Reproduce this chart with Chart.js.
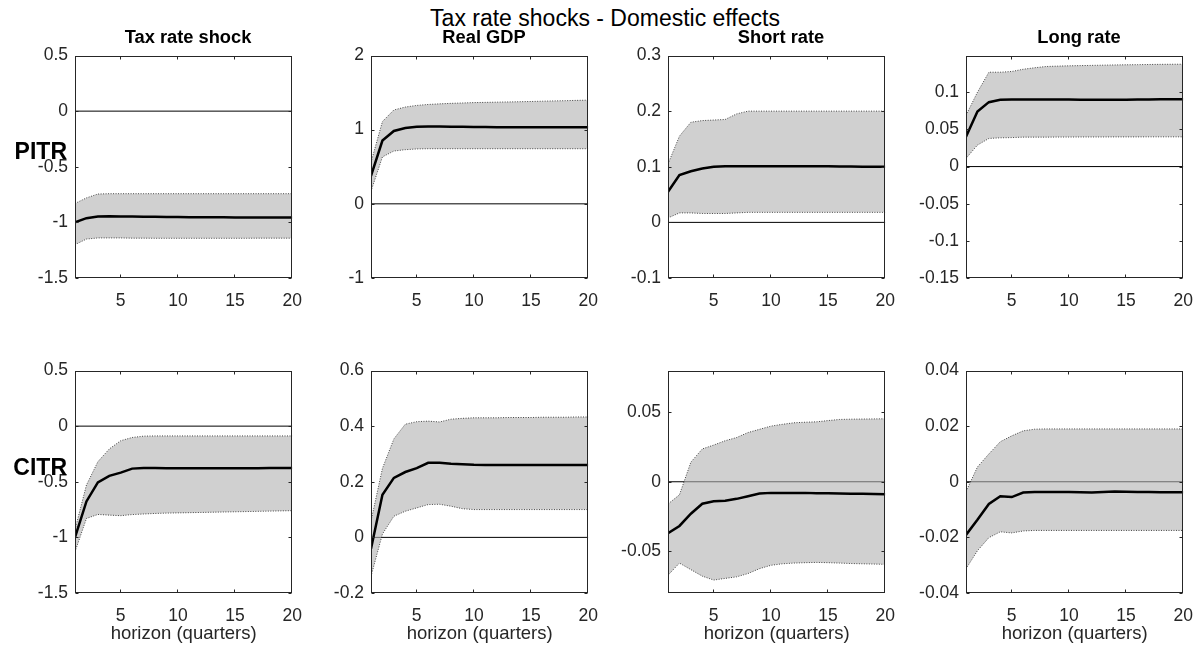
<!DOCTYPE html>
<html><head><meta charset="utf-8">
<script src="https://cdn.jsdelivr.net/npm/chart.js@4/dist/chart.umd.min.js"></script>
<style>
html,body{margin:0;padding:0;background:#fff;width:1202px;height:646px;overflow:hidden;position:relative;font-family:"Liberation Sans",Arial,sans-serif;}
canvas{position:absolute;}
.t{position:absolute;white-space:nowrap;color:#000;line-height:1;}
</style></head><body>
<script>
// ---------- data ----------
const horizon = [1,2,3,4,5,6,7,8,9,10,11,12,13,14,15,16,17,18,19,20];
const xTicks = [5,10,15,20];
const mainTitle = 'Tax rate shocks - Domestic effects';
const panelTitles = ['Tax rate shock','Real GDP','Short rate','Long rate'];
const rowLabels = ['PITR','CITR'];
const xAxisLabel = 'horizon (quarters)';

// PITR row
const pitrTaxMed = [-1.0,-0.962,-0.948,-0.946,-0.947,-0.948,-0.949,-0.950,-0.951,-0.952,-0.953,-0.954,-0.955,-0.955,-0.956,-0.956,-0.957,-0.957,-0.957,-0.957];
const pitrTaxUp  = [-0.83,-0.78,-0.745,-0.742,-0.742,-0.742,-0.742,-0.742,-0.742,-0.742,-0.742,-0.742,-0.742,-0.742,-0.742,-0.742,-0.742,-0.742,-0.742,-0.742];
const pitrTaxLo  = [-1.20,-1.15,-1.14,-1.14,-1.14,-1.142,-1.142,-1.143,-1.143,-1.143,-1.143,-1.143,-1.143,-1.143,-1.143,-1.143,-1.142,-1.142,-1.142,-1.142];

const pitrGdpMed = [0.376,0.854,0.982,1.022,1.04,1.044,1.042,1.04,1.038,1.036,1.035,1.034,1.034,1.033,1.033,1.033,1.033,1.033,1.033,1.033];
const pitrGdpUp  = [0.56,1.11,1.266,1.305,1.327,1.34,1.348,1.355,1.36,1.365,1.368,1.371,1.374,1.377,1.38,1.384,1.388,1.391,1.395,1.398];
const pitrGdpLo  = [0.17,0.633,0.712,0.73,0.74,0.743,0.743,0.743,0.743,0.743,0.743,0.743,0.743,0.743,0.743,0.743,0.743,0.743,0.743,0.743];

const pitrSrMed = [0.055,0.085,0.092,0.097,0.1,0.101,0.101,0.101,0.101,0.101,0.101,0.101,0.101,0.101,0.101,0.1005,0.1005,0.1,0.1,0.1];
const pitrSrUp  = [0.105,0.155,0.18,0.183,0.184,0.185,0.195,0.2,0.2,0.2,0.2,0.2,0.2,0.2,0.2,0.2,0.2,0.2,0.2,0.2];
const pitrSrLo  = [0.008,0.017,0.017,0.016,0.016,0.016,0.017,0.018,0.018,0.018,0.018,0.018,0.018,0.018,0.018,0.018,0.018,0.018,0.018,0.018];

const pitrLrMed = [0.04,0.0742,0.0867,0.0898,0.0902,0.0902,0.0902,0.0902,0.0902,0.0902,0.0901,0.09,0.09,0.09,0.09,0.0902,0.0903,0.0905,0.0906,0.0907];
const pitrLrUp  = [0.069,0.1,0.127,0.127,0.128,0.131,0.133,0.1347,0.1352,0.1356,0.1359,0.1362,0.1365,0.1368,0.137,0.1372,0.1374,0.1376,0.1377,0.1378];
const pitrLrLo  = [0.011,0.0289,0.0378,0.0387,0.039,0.0396,0.0396,0.0396,0.0397,0.0397,0.0398,0.0398,0.0398,0.0399,0.0399,0.0399,0.04,0.04,0.04,0.04];

// CITR row
const citrTaxMed = [-1.0,-0.677,-0.506,-0.447,-0.418,-0.382,-0.377,-0.377,-0.378,-0.378,-0.378,-0.378,-0.378,-0.378,-0.378,-0.378,-0.378,-0.377,-0.377,-0.377];
const citrTaxUp  = [-0.93,-0.53,-0.32,-0.205,-0.131,-0.102,-0.09,-0.088,-0.088,-0.088,-0.088,-0.088,-0.088,-0.088,-0.088,-0.088,-0.088,-0.088,-0.088,-0.088];
const citrTaxLo  = [-1.13,-0.83,-0.794,-0.80,-0.805,-0.795,-0.79,-0.785,-0.782,-0.78,-0.778,-0.776,-0.774,-0.772,-0.77,-0.768,-0.766,-0.764,-0.762,-0.76];

const citrGdpMed = [-0.041,0.153,0.214,0.235,0.249,0.268,0.268,0.265,0.263,0.261,0.26,0.26,0.26,0.26,0.26,0.26,0.26,0.26,0.26,0.26];
const citrGdpUp  = [0.059,0.248,0.354,0.407,0.416,0.418,0.415,0.425,0.428,0.43,0.43,0.43,0.431,0.431,0.431,0.432,0.432,0.432,0.433,0.433];
const citrGdpLo  = [-0.14,0.012,0.076,0.094,0.106,0.118,0.119,0.112,0.103,0.1,0.1,0.1,0.1,0.1,0.1,0.1,0.1,0.1,0.1,0.1];

const citrSrMed = [-0.037,-0.0318,-0.023,-0.0158,-0.0141,-0.0137,-0.0123,-0.0104,-0.0085,-0.008,-0.008,-0.008,-0.008,-0.0082,-0.0083,-0.0085,-0.0086,-0.0087,-0.0088,-0.009];
const citrSrUp  = [-0.016,-0.0094,0.0141,0.0236,0.0264,0.0295,0.0318,0.0354,0.0377,0.04,0.0413,0.0424,0.0428,0.0431,0.044,0.0448,0.045,0.0451,0.0452,0.0453];
const citrSrLo  = [-0.0672,-0.0585,-0.0632,-0.0679,-0.0707,-0.0695,-0.0684,-0.066,-0.0625,-0.0601,-0.059,-0.0585,-0.0582,-0.058,-0.0582,-0.0585,-0.0588,-0.059,-0.0592,-0.0594];

const citrLrMed = [-0.0191,-0.0137,-0.008,-0.0052,-0.0055,-0.0039,-0.0037,-0.0037,-0.0037,-0.0037,-0.0038,-0.0039,-0.0037,-0.0035,-0.0036,-0.0037,-0.0037,-0.0038,-0.0038,-0.0038];
const citrLrUp  = [-0.0035,0.0053,0.01,0.0144,0.0165,0.0183,0.0189,0.019,0.019,0.019,0.019,0.019,0.019,0.019,0.019,0.019,0.019,0.019,0.019,0.019];
const citrLrLo  = [-0.0313,-0.0248,-0.0201,-0.018,-0.0184,-0.0177,-0.0175,-0.0175,-0.0175,-0.0175,-0.0175,-0.0175,-0.0175,-0.0175,-0.0175,-0.0175,-0.0175,-0.0175,-0.0175,-0.0175];

// y axis ranges and ticks
const yTicksTax = [-1.5,-1,-0.5,0,0.5];
const yTicksGdp1 = [-1,0,1,2];
const yTicksSr1 = [-0.1,0,0.1,0.2,0.3];
const yTicksLr1 = [-0.15,-0.1,-0.05,0,0.05,0.1];
const yTicksGdp2 = [-0.2,0,0.2,0.4,0.6];
const yTicksSr2 = [-0.05,0,0.05];
const yTicksLr2 = [-0.04,-0.02,0,0.02,0.04];
const yRangeTax = [-1.5,0.5];
const yRangeGdp1 = [-1,2];
const yRangeSr1 = [-0.1,0.3];
const yRangeLr1 = [-0.15,0.1495];
const yRangeGdp2 = [-0.2,0.6];
const yRangeSr2 = [-0.08,0.08];
const yRangeLr2 = [-0.04,0.04];

// ---------- layout ----------
const FONT = '"Liberation Sans", Arial, sans-serif';
const lefts = [75,371,668,966];
const tops = [52,367];
const PW = 226, PH = 226;
const PAD_L = 75, PAD_R = 14, PAD_T = 14, PAD_B = 56;

function addText(txt, x, baseline, size, bold, align){
  const d = document.createElement('div');
  d.className='t'; d.textContent = txt;
  d.style.fontSize = size+'px';
  d.style.fontWeight = bold ? 'bold' : 'normal';
  d.style.top = (baseline - 0.8465*size)+'px';
  d.style.left = x+'px';
  if (align==='center') d.style.transform='translateX(-50%)';
  if (align==='right') d.style.transform='translateX(-100%)';
  document.body.appendChild(d);
}

const boxPlugin = {
  id:'box',
  afterDatasetsDraw(chart){
    const {ctx, chartArea:a, scales:{x,y}} = chart;
    ctx.save();
    ctx.strokeStyle='#262626'; ctx.lineWidth=1; ctx.setLineDash([]);
    const L=Math.round(a.left)+0.5, R=Math.round(a.right)-0.5, T=Math.round(a.top)+0.5, B=Math.round(a.bottom)-0.5;
    ctx.strokeRect(L,T,R-L,B-T);
    ctx.beginPath();
    x.ticks.forEach(t=>{const p=Math.round(x.getPixelForValue(t.value))-0.5; ctx.moveTo(p,B); ctx.lineTo(p,B-3); ctx.moveTo(p,T); ctx.lineTo(p,T+3);});
    y.ticks.forEach(t=>{const p=Math.round(y.getPixelForValue(t.value))+0.5; ctx.moveTo(L,p); ctx.lineTo(L+3,p); ctx.moveTo(R,p); ctx.lineTo(R-3,p);});
    ctx.stroke(); ctx.restore();
  }
};

function makePanel(col,row,med,up,lo,yRange,yTicks){
  const cv = document.createElement('canvas');
  cv.width = PAD_L+PW+PAD_R; cv.height = PAD_T+PH+PAD_B;
  cv.style.left = (lefts[col]-PAD_L)+'px'; cv.style.top=(tops[row]-PAD_T)+'px';
  document.body.appendChild(cv);
  const pts = arr => horizon.map((h,i)=>({x:h,y:arr[i]}));
  const n = horizon.length;
  new Chart(cv,{
    type:'line',
    data:{datasets:[
      {data:pts(med), borderColor:'#000', borderWidth:2.5, pointRadius:0, order:0, fill:false},
      {data:pts(up), borderColor:'rgba(0,0,0,0.7)', borderWidth:1, borderDash:[1,1.5], pointRadius:0, order:2, fill:2, backgroundColor:'rgba(176,176,176,0.6)'},
      {data:pts(lo), borderColor:'rgba(0,0,0,0.7)', borderWidth:1, borderDash:[1,1.5], pointRadius:0, order:1, fill:false},
      {data:[{x:horizon[0],y:0},{x:horizon[n-1],y:0}], borderColor:'#000', borderWidth:1, pointRadius:0, order:3, fill:false}
    ]},
    options:{
      responsive:false, animation:false, devicePixelRatio:1,
      layout:{padding:{left:0,top:PAD_T,right:PAD_R,bottom:0}},
      elements:{line:{tension:0}},
      plugins:{legend:{display:false}, tooltip:{enabled:false}, title:{display:false}},
      scales:{
        x:{type:'linear', min:horizon[0], max:horizon[n-1],
          grid:{display:false, drawTicks:false}, border:{display:false},
          afterBuildTicks:s=>{s.ticks = xTicks.map(v=>({value:v}));},
          afterFit:s=>{s.height = PAD_B;},
          ticks:{padding:13, color:'#262626', font:{family:FONT,size:17.5}, maxRotation:0, autoSkip:false},
          title:{display:row===1, text:xAxisLabel, color:'#262626', font:{family:FONT,size:18.5}, padding:{top:0,bottom:4}}
        },
        y:{type:'linear', min:yRange[0], max:yRange[1],
          grid:{display:false, drawTicks:false}, border:{display:false},
          afterBuildTicks:s=>{s.ticks = yTicks.map(v=>({value:v}));},
          afterFit:s=>{s.width = PAD_L;},
          ticks:{padding:7, color:'#262626', font:{family:FONT,size:17.5}, autoSkip:false, callback:v=>String(Math.round(v*1e6)/1e6)}
        }
      }
    },
    plugins:[boxPlugin]
  });
}

makePanel(0,0,pitrTaxMed,pitrTaxUp,pitrTaxLo,yRangeTax,yTicksTax);
makePanel(1,0,pitrGdpMed,pitrGdpUp,pitrGdpLo,yRangeGdp1,yTicksGdp1);
makePanel(2,0,pitrSrMed,pitrSrUp,pitrSrLo,yRangeSr1,yTicksSr1);
makePanel(3,0,pitrLrMed,pitrLrUp,pitrLrLo,yRangeLr1,yTicksLr1);
makePanel(0,1,citrTaxMed,citrTaxUp,citrTaxLo,yRangeTax,yTicksTax);
makePanel(1,1,citrGdpMed,citrGdpUp,citrGdpLo,yRangeGdp2,yTicksGdp2);
makePanel(2,1,citrSrMed,citrSrUp,citrSrLo,yRangeSr2,yTicksSr2);
makePanel(3,1,citrLrMed,citrLrUp,citrLrLo,yRangeLr2,yTicksLr2);

addText(mainTitle, 605, 26, 23, false, 'center');
panelTitles.forEach((t,i)=>addText(t, lefts[i]+PW/2, 43.5, 18.3, true, 'center'));
addText(rowLabels[0], 67, 159.5, 23, true, 'right');
addText(rowLabels[1], 67, 475.7, 23, true, 'right');
</script>
</body></html>
